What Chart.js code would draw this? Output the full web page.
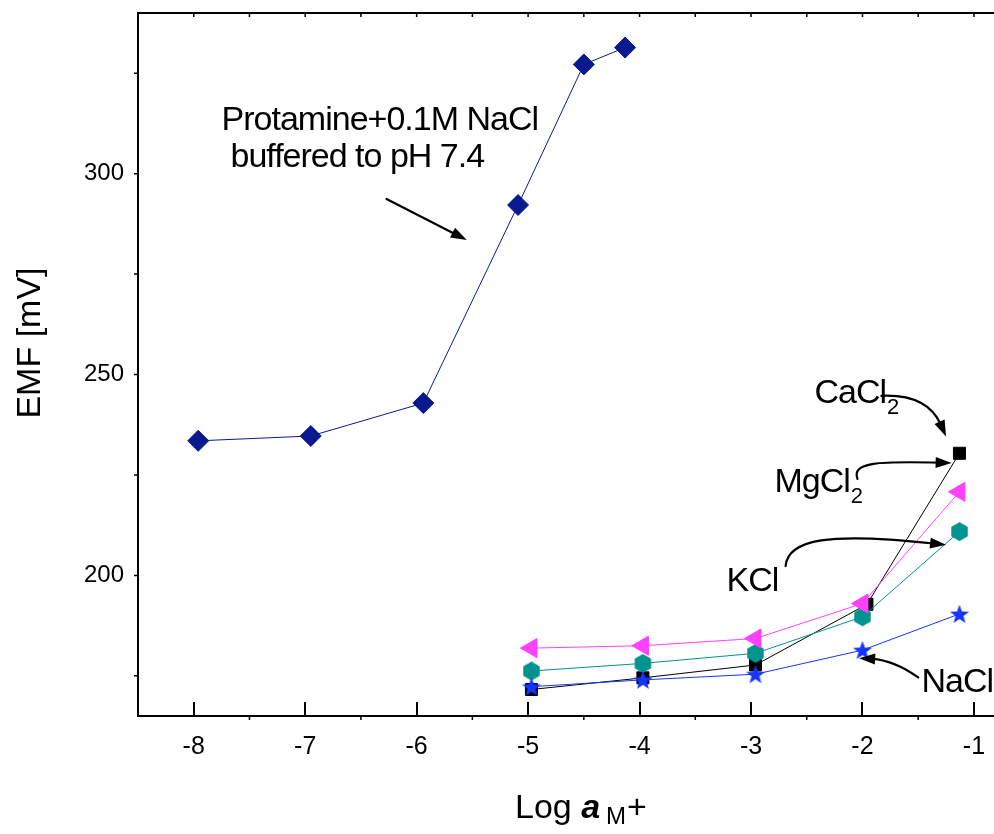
<!DOCTYPE html>
<html>
<head>
<meta charset="utf-8">
<script src="https://cdn.jsdelivr.net/npm/chart.js@4.4.1/dist/chart.umd.min.js"></script>
<style>
  html, body { margin: 0; padding: 0; background: #ffffff; }
  canvas { display: block; }
</style>
</head>
<body>
<canvas id="emf" width="994" height="834"></canvas>
<script>
// Tick labels
const xTicks = [-8, -7, -6, -5, -4, -3, -2, -1];
const yTicks = [200, 250, 300];

// Protamine + 0.1 M NaCl, buffered to pH 7.4
const protamineX = [-7.96, -6.95, -5.94, -5.09, -4.50, -4.13];
const protamineY = [233.5, 234.7, 242.9, 292.2, 327.2, 331.4];

// Salt solutions: log activity of the cation
const saltX  = [-4.97, -3.97, -2.96, -2.00, -1.13];
const cacl2X = [-4.97, -3.97, -2.96, -1.96, -1.13];
const cacl2Y = [171.6, 174.5, 177.7, 192.8, 230.4];
const mgcl2Y = [181.9, 182.5, 184.3, 193.0, 220.8];
const kclY   = [176.2, 178.1, 180.6, 189.7, 210.9];
const naclY  = [172.3, 174.0, 175.4, 181.4, 190.4];

const FONT = "'Liberation Sans', Arial, Helvetica, sans-serif";

function pairs(xs, ys) { return xs.map((x, i) => ({ x: x, y: ys[i] })); }

// Filled five-point star marker
function starMarker(color, R, r) {
  const c = document.createElement('canvas');
  const s = Math.ceil(2 * R + 2);
  c.width = c.height = s;
  const g = c.getContext('2d');
  g.translate(s / 2, s / 2 + R * 0.08);
  g.beginPath();
  for (let i = 0; i < 10; i++) {
    const a = -Math.PI / 2 + i * Math.PI / 5;
    const rad = i % 2 ? r : R;
    g.lineTo(rad * Math.cos(a), rad * Math.sin(a));
  }
  g.closePath();
  g.fillStyle = color;
  g.fill();
  return c;
}

// Filled hexagon marker (pointed top)
function hexMarker(color, R) {
  const c = document.createElement('canvas');
  const s = Math.ceil(2 * R + 2);
  c.width = c.height = s;
  const g = c.getContext('2d');
  g.translate(s / 2, s / 2);
  g.beginPath();
  for (let i = 0; i < 6; i++) {
    const a = -Math.PI / 2 + i * Math.PI / 3;
    g.lineTo(R * Math.cos(a), R * Math.sin(a));
  }
  g.closePath();
  g.fillStyle = color;
  g.fill();
  return c;
}

const C_PROT = '#0a1a8e';
const C_MG = '#ff40ff';
const C_K = '#00938f';
const C_NA = '#1434ff';
const C_CA = '#000000';

// Text labels with arrows, placed in data units
const labels = [
  { text: 'Protamine+0.1M NaCl', x: -7.75, y: 310.9 },
  { text: 'buffered to pH 7.4', x: -7.67, y: 301.7 },
  { text: 'CaCl', sub: '2', x: -2.43, y: 242.9 },
  { text: 'MgCl', sub: '2', x: -2.79, y: 220.8 },
  { text: 'KCl', x: -3.22, y: 196.1 },
  { text: 'NaCl', x: -1.47, y: 171.0 }
];
const arrows = [
  { pts: [[-6.27, 293.7], [-5.55, 283.5]] },
  { pts: [[-1.83, 244.7], [-1.42, 245.2], [-1.25, 234.6]] },
  { pts: [[-2.045, 224.0], [-2.10, 228.3], [-1.85, 228.4], [-1.20, 228.0]] },
  { pts: [[-2.69, 202.3], [-2.67, 209.0], [-2.30, 210.8], [-1.25, 207.6]] },
  { pts: [[-1.50, 174.6], [-1.72, 178.9], [-2.03, 179.4]] }
];

const axesPlugin = {
  id: 'axesPlugin',
  afterDraw(chart) {
    const ctx = chart.ctx;
    const a = chart.chartArea;
    const xs = chart.scales.x, ys = chart.scales.y;
    ctx.save();
    ctx.strokeStyle = '#000';
    ctx.lineCap = 'butt';
    // axis frame: left, bottom, top
    ctx.lineWidth = 2;
    ctx.beginPath();
    ctx.moveTo(a.left, a.top); ctx.lineTo(a.left, a.bottom + 1);
    ctx.moveTo(a.left - 1, a.bottom); ctx.lineTo(a.right, a.bottom);
    ctx.moveTo(a.left - 1, a.top); ctx.lineTo(a.right, a.top);
    ctx.stroke();
    // bottom: major ticks inward, minor ticks outward
    ctx.beginPath();
    xTicks.forEach(v => {
      const p = Math.round(xs.getPixelForValue(v));
      ctx.moveTo(p, a.bottom); ctx.lineTo(p, a.bottom - 14);
    });
    ctx.stroke();
    ctx.lineWidth = 1.5;
    ctx.beginPath();
    for (let v = -8.5; v <= xs.max; v += 0.5) {
      if (Math.abs(v - Math.round(v)) < 1e-6) continue;
      const p = xs.getPixelForValue(v);
      if (p < a.left + 2) continue;
      ctx.moveTo(p, a.bottom); ctx.lineTo(p, a.bottom + 4);
    }
    // top: small inward marks
    for (let v = -8; v <= xs.max; v += 0.5) {
      const p = xs.getPixelForValue(v);
      ctx.moveTo(p, a.top); ctx.lineTo(p, a.top + 4);
    }
    // left: small outward marks
    for (let v = 175; v <= 325; v += 25) {
      const p = ys.getPixelForValue(v);
      ctx.moveTo(a.left, p); ctx.lineTo(a.left - 4, p);
    }
    ctx.stroke();

    // axis titles
    ctx.fillStyle = '#000';
    ctx.textBaseline = 'alphabetic';
    ctx.save();
    ctx.translate(40, 343);
    ctx.rotate(-Math.PI / 2);
    ctx.textAlign = 'center';
    ctx.font = '34px ' + FONT;
    ctx.fillText('EMF [mV]', 0, 0);
    ctx.restore();

    ctx.textAlign = 'left';
    let tx = 515;
    const base = 818;
    ctx.font = '34px ' + FONT;
    ctx.fillText('Log ', tx, base);
    tx += ctx.measureText('Log ').width;
    ctx.font = 'italic bold 34px ' + FONT;
    ctx.fillText('a', tx, base);
    tx += ctx.measureText('a').width + 6;
    ctx.font = '24px ' + FONT;
    ctx.fillText('M', tx, base + 6);
    tx += ctx.measureText('M').width + 1;
    ctx.font = '34px ' + FONT;
    ctx.fillText('+', tx, base);
    ctx.restore();
  }
};

const annotationPlugin = {
  id: 'annotationPlugin',
  afterDatasetsDraw(chart) {
    const ctx = chart.ctx;
    const X = v => chart.scales.x.getPixelForValue(v);
    const Y = v => chart.scales.y.getPixelForValue(v);
    ctx.save();
    ctx.fillStyle = '#000';
    ctx.textAlign = 'left';
    ctx.textBaseline = 'alphabetic';
    labels.forEach(l => {
      ctx.font = '34px ' + FONT;
      ctx.letterSpacing = '-1px';
      const px = X(l.x), py = Y(l.y);
      ctx.fillText(l.text, px, py);
      if (l.sub) {
        const w = ctx.measureText(l.text).width;
        ctx.font = '22px ' + FONT;
        ctx.letterSpacing = '0px';
        ctx.fillText(l.sub, px + w + 1, py + 11);
      }
    });
    ctx.letterSpacing = '0px';

    ctx.strokeStyle = '#000';
    ctx.lineWidth = 2.2;
    ctx.lineCap = 'round';
    arrows.forEach(ar => {
      const p = ar.pts.map(q => [X(q[0]), Y(q[1])]);
      const n = p.length;
      const tip = p[n - 1];
      const prev = p[n - 2];
      const ang = Math.atan2(tip[1] - prev[1], tip[0] - prev[0]);
      const headLen = 16, headW = 5.5;
      // stop the shaft at the base of the head
      const end = [tip[0] - Math.cos(ang) * headLen * 0.8, tip[1] - Math.sin(ang) * headLen * 0.8];
      ctx.beginPath();
      ctx.moveTo(p[0][0], p[0][1]);
      if (n === 2) ctx.lineTo(end[0], end[1]);
      else if (n === 3) ctx.quadraticCurveTo(p[1][0], p[1][1], end[0], end[1]);
      else ctx.bezierCurveTo(p[1][0], p[1][1], p[2][0], p[2][1], end[0], end[1]);
      ctx.stroke();
      ctx.beginPath();
      ctx.moveTo(tip[0], tip[1]);
      ctx.lineTo(tip[0] - Math.cos(ang) * headLen - Math.sin(ang) * headW,
                 tip[1] - Math.sin(ang) * headLen + Math.cos(ang) * headW);
      ctx.lineTo(tip[0] - Math.cos(ang) * headLen + Math.sin(ang) * headW,
                 tip[1] - Math.sin(ang) * headLen - Math.cos(ang) * headW);
      ctx.closePath();
      ctx.fill();
    });
    ctx.restore();
  }
};

const lineDefaults = { showLine: true, borderWidth: 1, tension: 0, pointBorderWidth: 1, pointHoverRadius: 0 };

// keep the plot area exactly where the axes sit
function noPad(s) { s.paddingTop = 0; s.paddingBottom = 0; s.paddingLeft = 0; s.paddingRight = 0; }

new Chart(document.getElementById('emf'), {
  type: 'scatter',
  data: {
    datasets: [
      Object.assign({ label: 'MgCl2', data: pairs(saltX, mgcl2Y), borderColor: C_MG, backgroundColor: C_MG,
        pointStyle: 'triangle', pointRotation: -90, pointRadius: 11 }, lineDefaults),
      Object.assign({ label: 'NaCl', data: pairs(saltX, naclY), borderColor: C_NA, backgroundColor: C_NA,
        pointStyle: starMarker(C_NA, 10, 4.2), pointRadius: 10 }, lineDefaults),
      Object.assign({ label: 'KCl', data: pairs(saltX, kclY), borderColor: C_K, backgroundColor: C_K,
        pointStyle: hexMarker(C_K, 9.5), pointRadius: 10 }, lineDefaults),
      Object.assign({ label: 'CaCl2', data: pairs(cacl2X, cacl2Y), borderColor: C_CA, backgroundColor: C_CA,
        pointStyle: 'rect', pointRadius: 8.5 }, lineDefaults),
      Object.assign({ label: 'Protamine', data: pairs(protamineX, protamineY), borderColor: C_PROT, backgroundColor: C_PROT,
        pointStyle: 'rectRot', pointRadius: 10.5 }, lineDefaults)
    ]
  },
  options: {
    responsive: false,
    animation: false,
    events: [],
    layout: { autoPadding: false, padding: { top: 13, right: 0, left: 0, bottom: 0 } },
    plugins: { legend: { display: false }, tooltip: { enabled: false } },
    scales: {
      x: {
        type: 'linear', min: -8.5, max: -0.82,
        grid: { display: false, drawTicks: false },
        border: { display: false },
        afterBuildTicks: s => { s.ticks = xTicks.map(v => ({ value: v })); },
        afterFit: s => { s.height = 118; noPad(s); },
        ticks: { color: '#000', font: { family: FONT, size: 25 }, padding: 16, maxRotation: 0, autoSkip: false }
      },
      y: {
        type: 'linear', min: 165, max: 340,
        grid: { display: false, drawTicks: false },
        border: { display: false },
        afterBuildTicks: s => { s.ticks = yTicks.map(v => ({ value: v })); },
        afterFit: s => { s.width = 138; noPad(s); },
        ticks: { color: '#000', font: { family: FONT, size: 24 }, padding: 14 }
      }
    }
  },
  plugins: [axesPlugin, annotationPlugin]
});
</script>
</body>
</html>
